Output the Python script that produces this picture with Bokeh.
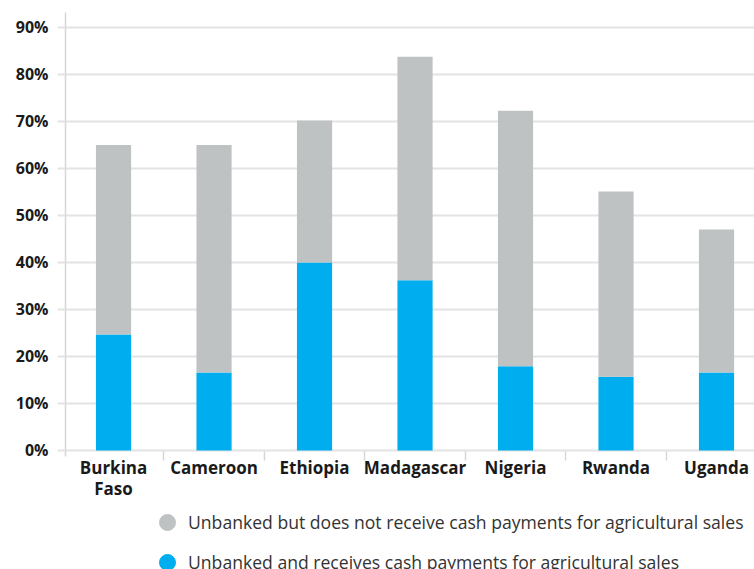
from bokeh.plotting import figure
from bokeh.layouts import column
from bokeh.models import (ColumnDataSource, Range1d, FixedTicker, PrintfTickFormatter,
                          Legend, LegendItem)
from bokeh.embed import file_html
from bokeh.resources import INLINE

countries = ["Burkina Faso", "Cameroon", "Ethiopia", "Madagascar", "Nigeria", "Rwanda", "Uganda"]
tick_labels = ["Burkina\nFaso", "Cameroon", "Ethiopia", "Madagascar", "Nigeria", "Rwanda", "Uganda"]
receives_cash = [24.7, 16.6, 40.0, 36.2, 17.9, 15.7, 16.6]
no_cash = [40.3, 48.4, 30.2, 47.6, 54.4, 39.4, 30.4]
y_ticks = [0, 10, 20, 30, 40, 50, 60, 70, 80, 90]
series_names = ["Unbanked but does not receive cash payments for agricultural sales",
                "Unbanked and receives cash payments for agricultural sales"]

BLUE = "#00AEEF"
GREY = "#BEC2C3"
FONT = "Open Sans"

xs = list(range(len(countries)))
src = ColumnDataSource(dict(x=xs, receives=receives_cash, nocash=no_cash))

p = figure(width=754, height=509, output_backend="svg", toolbar_location=None,
           x_range=Range1d(-0.478, 6.378), y_range=Range1d(-1.28, 93.19),
           min_border_left=65, min_border_right=0, min_border_top=12, min_border_bottom=53)
p.outline_line_color = None

p.vbar_stack(["receives", "nocash"], x="x", width=0.35, source=src,
             color=[BLUE, GREY], line_color=None)

# x axis
xa = p.xaxis[0]
xa.ticker = FixedTicker(ticks=xs, minor_ticks=[i + 0.5 for i in range(-1, len(xs))])
xa.major_label_overrides = {i: t for i, t in enumerate(tick_labels)}
xa.axis_line_color = None
xa.major_tick_line_color = None
xa.major_tick_in = 0
xa.major_tick_out = 0
xa.minor_tick_line_color = "#d6d6d6"
xa.minor_tick_line_width = 1.5
xa.minor_tick_in = 5
xa.minor_tick_out = 4
xa.major_label_standoff = -5
xa.major_label_text_font = FONT
xa.major_label_text_font_style = "bold"
xa.major_label_text_font_size = "17px"
xa.major_label_text_line_height = 0.95
xa.major_label_text_color = "#1a1a1a"

# y axis
ya = p.yaxis[0]
ya.ticker = FixedTicker(ticks=y_ticks)
ya.formatter = PrintfTickFormatter(format="%d%%")
ya.axis_line_color = "#d6d6d6"
ya.axis_line_width = 1.5
ya.major_tick_line_color = "#e3e3e3"
ya.major_tick_line_width = 2
ya.major_tick_in = 0
ya.major_tick_out = 8
ya.minor_tick_line_color = None
ya.major_label_standoff = 9
ya.major_label_text_font = FONT
ya.major_label_text_font_style = "bold"
ya.major_label_text_font_size = "16px"
ya.major_label_text_color = "#1a1a1a"

p.xgrid.grid_line_color = None
p.ygrid.grid_line_color = "#e3e3e3"
p.ygrid.grid_line_width = 2
p.ygrid.ticker = FixedTicker(ticks=y_ticks)

# legend strip below the chart
lg = figure(width=754, height=60, output_backend="svg", toolbar_location=None,
            x_range=Range1d(0, 1), y_range=Range1d(0, 1),
            min_border_left=0, min_border_right=0, min_border_top=0, min_border_bottom=0)
lg.axis.visible = False
lg.grid.grid_line_color = None
lg.outline_line_color = None
nan = float("nan")
r_grey = lg.scatter(x=[nan], y=[nan], marker="circle", size=17, color=GREY)
r_blue = lg.scatter(x=[nan], y=[nan], marker="circle", size=17, color=BLUE)
legend = Legend(items=[LegendItem(label=series_names[0], renderers=[r_grey]),
                       LegendItem(label=series_names[1], renderers=[r_blue])],
                orientation="vertical", location=(81, -13),
                glyph_width=42, glyph_height=40, label_height=20, label_standoff=-2,
                spacing=0, padding=0, margin=0, border_line_color=None,
                background_fill_alpha=0,
                label_text_font=FONT, label_text_font_size="17.6px",
                label_text_color="#333333")
lg.add_layout(legend, "center")

open("out.html", "w").write(file_html(column(p, lg, spacing=0), INLINE))
